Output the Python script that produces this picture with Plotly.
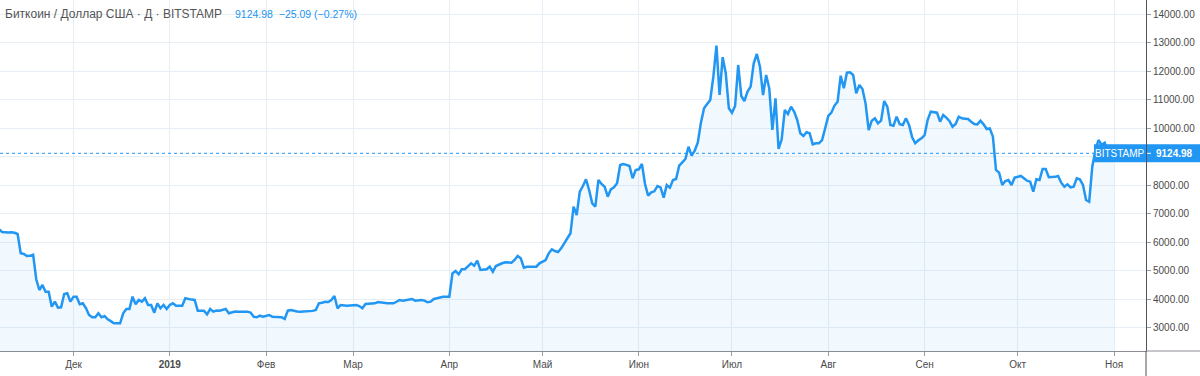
import pandas as pd
import plotly.graph_objects as go

# ---- daily close values (BTC/USD, Bitstamp) ----
nov18 = [6450, 6461, 6366, 6345, 6350, 6356, 6340, 6296, 5619, 5595, 5525, 5530, 5570,
         4708, 4332, 4508, 4273, 4273, 3747, 3922, 3712, 3726, 4192, 4217, 3922]
dec18 = [4098, 4098, 3831, 3866, 3700, 3456, 3375, 3375, 3515, 3375, 3421, 3305, 3240,
         3165, 3165, 3165, 3515, 3666, 3666, 4098, 3831, 3982, 3922, 4041, 3807, 3807,
         3536, 3866, 3691, 3807, 3666]
jan19 = [3807, 3866, 3782, 3782, 3782, 4041, 4006, 3995, 3982, 3607, 3607, 3607, 3480,
         3666, 3572, 3610, 3607, 3631, 3666, 3515, 3550, 3580, 3570, 3572, 3572, 3572,
         3540, 3397, 3375, 3431, 3397]
feb19 = [3420, 3456, 3397, 3397, 3397, 3380, 3316, 3607, 3631, 3596, 3580, 3572, 3575,
         3575, 3584, 3600, 3631, 3866, 3887, 3922, 3910, 3982, 4122, 3691, 3807, 3790,
         3782, 3790]
mar19 = [3800, 3807, 3771, 3691, 3842, 3850, 3860, 3866, 3912, 3890, 3866, 3866, 3866,
         3866, 3920, 3982, 3957, 3982, 4000, 4017, 3957, 3970, 3982, 3960, 3901, 3922,
         4017, 4041, 4070, 4098, 4098]
apr19 = [4098, 4914, 4999, 4882, 5059, 5059, 5149, 5267, 5184, 5360, 5034, 5045, 5057,
         5149, 4975, 5174, 5234, 5270, 5304, 5300, 5291, 5384, 5525, 5444, 5115, 5149,
         5149, 5149, 5149, 5268]
may19 = [5320, 5384, 5618, 5758, 5700, 5665, 5794, 5991, 6146, 6321,
         7254, 6962, 7780, 7979, 8214, 7839, 7372, 7254, 8190, 8049,
         7955, 7605, 7862, 7932, 8073, 8715, 8750, 8720, 8680, 8249, 8540]
jun19 = [8565, 8750, 8049, 7640, 7757, 7792, 7979, 7932, 7570, 8014,
         7920, 8190, 8225, 8691, 8810, 8926, 9357, 9042, 9217, 9511,
         10200, 10704, 10850, 10995, 11812, 12899, 11170, 12496, 11925, 10704]
jul19 = [10550, 10785, 12222, 11135, 10960, 11287, 11462, 12282, 12608, 12163,
         11170, 11871, 11404, 9943, 11054, 9277, 9616, 10644, 10504, 10761,
         10586, 10294, 9827, 9733, 9862, 9827, 9441, 9476, 9476, 9592, 10003]
aug19 = [10434, 10550, 10800, 10936, 11847, 11404, 11953, 11965, 11871, 11228,
         11520, 11380, 10877, 9943, 10270, 10352, 10178, 10270, 10960, 10761,
         10118, 10094, 10409, 10143, 10118, 10352, 10118, 9686, 9476, 9580, 9650]
sep19 = [9760, 10300, 10586, 10562, 10550, 10235, 10469, 10375, 10259, 10059,
         10153, 10410, 10352, 10340, 10329, 10235, 10153, 10141, 10270, 10141,
         9977, 10000, 9709, 8540, 8447, 8014, 8155, 8190, 8014, 8271]
oct19 = [8300, 8330, 8249, 8166, 8131, 7780, 8214, 8190, 8576, 8576,
         8284, 8284, 8300, 8330, 8096, 7955, 8038, 7932, 7955, 8249,
         8214, 8014, 7488, 7429, 8656, 9242, 9592, 9417, 9498, 9180, 9150]
nov19 = [9124.98]

month_starts = ["2018-11-06", "2018-12-01", "2019-01-01", "2019-02-01", "2019-03-01",
                "2019-04-01", "2019-05-01", "2019-06-01", "2019-07-01", "2019-08-01",
                "2019-09-01", "2019-10-01", "2019-11-01"]
month_values = [nov18, dec18, jan19, feb19, mar19, apr19, may19, jun19, jul19, aug19,
                sep19, oct19, nov19]

tick_dates = ["2018-12-01", "2019-01-01", "2019-02-01", "2019-03-01", "2019-04-01",
              "2019-05-01", "2019-06-01", "2019-07-01", "2019-08-01", "2019-09-01",
              "2019-10-01", "2019-11-01"]
tick_labels = ["Дек", "<b>2019</b>", "Фев", "Мар", "Апр", "Май", "Июн", "Июл", "Авг",
               "Сен", "Окт", "Ноя"]
y_ticks = [3000, 4000, 5000, 6000, 7000, 8000, 9000, 10000, 11000, 12000, 13000, 14000]

title_text = "Биткоин / Доллар США · Д · BITSTAMP"
exchange = "BITSTAMP"
last_price = 9124.98
change = -25.09
change_pct = -0.27

dates, prices = [], []
for start, vals in zip(month_starts, month_values):
    dates += list(pd.date_range(start, periods=len(vals), freq="D"))
    prices += vals

BLUE = "#2196F3"
TXT = "#4a4a4a"
GRID = "#E8EEF5"
FONT = "Liberation Sans, Arial, sans-serif"

fig = go.Figure()
fig.add_trace(go.Scatter(
    x=dates, y=prices, mode="lines",
    line=dict(color=BLUE, width=2.5),
    fill="tozeroy", fillcolor="rgba(33,150,243,0.06)",
    hoverinfo="skip"))

fig.update_layout(
    width=1200, height=376,
    margin=dict(l=0, r=54, t=0, b=25),
    plot_bgcolor="white", paper_bgcolor="white",
    showlegend=False,
    font=dict(family=FONT, size=10, color=TXT))

fig.update_xaxes(
    range=["2018-11-07 08:00", "2019-11-11 07:00"],
    tickmode="array", tickvals=tick_dates, ticktext=tick_labels,
    showgrid=True, gridcolor=GRID, gridwidth=1,
    ticks="outside", ticklen=4, tickcolor="#9a9da3",
    showline=True, linecolor="#8a8d94", linewidth=1,
    zeroline=False, automargin=False, tickfont=dict(size=10, color=TXT))

# the 9000 label sits under the last-price box, as in the original
y_tick_text = ["" if v == 9000 else f"{v:.2f}" for v in y_ticks]
fig.update_yaxes(
    side="right", range=[2193, 14501],
    tickmode="array", tickvals=y_ticks, ticktext=y_tick_text,
    showgrid=True, gridcolor=GRID, gridwidth=1,
    ticks="outside", ticklen=4, tickcolor="#9a9da3",
    showline=True, linecolor="#50535e", linewidth=1,
    zeroline=False, automargin=False, tickfont=dict(size=10, color=TXT))

PW = 1146.0
PH = 351.0
half_box = 9.0 / (PH / (14501 - 2193))

shapes = [
    dict(type="line", xref="paper", yref="paper", x0=1, x1=1 + 54 / PW, y0=0, y1=0,
         line=dict(color="#8a8d94", width=1)),
    dict(type="line", xref="paper", yref="paper", x0=1, x1=1, y0=-25 / PH, y1=0,
         line=dict(color="#50535e", width=1)),
    dict(type="line", xref="paper", yref="y", x0=0, x1=1, y0=last_price, y1=last_price,
         line=dict(color=BLUE, width=1, dash="dot")),
    dict(type="rect", xref="paper", yref="y", x0=1094 / PW, x1=1,
         y0=last_price - half_box, y1=last_price + half_box,
         fillcolor=BLUE, line=dict(width=0), layer="above"),
    dict(type="rect", xref="paper", yref="y", x0=1 + 1 / PW, x1=1 + 54 / PW,
         y0=last_price - half_box, y1=last_price + half_box,
         fillcolor=BLUE, line=dict(width=0), layer="above"),
    dict(type="line", xref="paper", yref="y", x0=1 + 1 / PW, x1=1 + 5 / PW,
         y0=last_price, y1=last_price, line=dict(color="white", width=1)),
]
fig.update_layout(shapes=shapes)

annotations = [
    dict(text=exchange, xref="paper", yref="y", x=(1094 + 1146) / 2 / PW, y=last_price,
         xanchor="center", yanchor="middle", showarrow=False,
         font=dict(family=FONT, size=10, color="white")),
    dict(text=f"<b>{last_price:.2f}</b>", xref="paper", yref="y", x=1 + 28 / PW,
         y=last_price, xanchor="center", yanchor="middle", showarrow=False,
         font=dict(family=FONT, size=10, color="white")),
    dict(text=title_text, xref="paper", yref="paper", x=3 / PW, y=1 - 14 / PH,
         xanchor="left", yanchor="middle", showarrow=False,
         font=dict(family=FONT, size=12, color="#555555")),
    dict(text=f"{last_price:.2f}  −{abs(change):.2f} (−{abs(change_pct):.2f}%)",
         xref="paper", yref="paper", x=233 / PW, y=1 - 14 / PH,
         xanchor="left", yanchor="middle", showarrow=False,
         font=dict(family=FONT, size=10.5, color=BLUE)),
]
fig.update_layout(annotations=annotations)

fig.write_html("out.html", config={"displayModeBar": False},
               post_script="document.body.style.margin='0';")
